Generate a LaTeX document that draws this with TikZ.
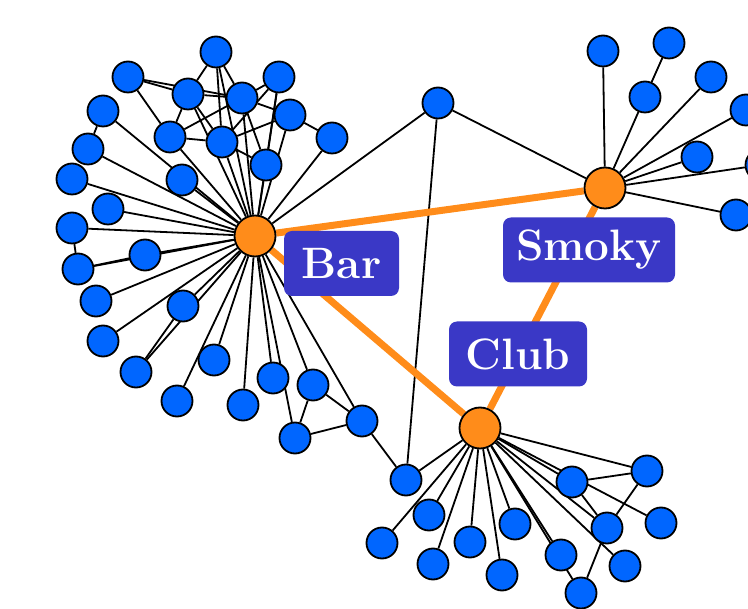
\documentclass[tikz,border=0pt]{standalone}
\usepackage{tikz}
\usetikzlibrary{backgrounds}
\definecolor{nodeblue}{RGB}{0,102,255}
\definecolor{huborange}{RGB}{255,140,26}
\definecolor{tagblue}{RGB}{58,56,198}

\begin{document}
\begin{tikzpicture}[x=1pt,y=-1pt,
  member/.style={circle,draw,line width=1.8pt,fill=nodeblue,minimum size=31pt,inner sep=0pt},
  hub/.style={circle,draw,line width=1.8pt,fill=huborange,minimum size=41pt,inner sep=0pt},
  tag/.style={fill=tagblue,text=white,rounded corners=8pt,minimum height=65pt,inner sep=0pt,
    font=\fontsize{44}{50}\selectfont\bfseries},
  link/.style={line width=1.8pt},
  tie/.style={line width=7pt,huborange}]
  \useasboundingbox (0,0) rectangle (748,609);
  \clip (0,0) rectangle (748,609);

  % hubs
  \node[hub] (hb) at (255,236) {};
  \node[hub] (hs) at (605,188) {};
  \node[hub] (hc) at (480,428) {};

  % Bar side
  \node[member] (b1) at (216,52) {};
  \node[member] (b2) at (128,77) {};
  \node[member] (b3) at (188,94) {};
  \node[member] (b4) at (242,98) {};
  \node[member] (b5) at (279,77) {};
  \node[member] (b6) at (290,115) {};
  \node[member] (b7) at (103,111) {};
  \node[member] (b8) at (332,138) {};
  \node[member] (b9) at (170,137) {};
  \node[member] (b10) at (222,142) {};
  \node[member] (b11) at (266,165) {};
  \node[member] (b12) at (88,149) {};
  \node[member] (b13) at (182,180) {};
  \node[member] (b14) at (72,179) {};
  \node[member] (b15) at (108,209) {};
  \node[member] (b16) at (72,228) {};
  \node[member] (b17) at (145,255) {};
  \node[member] (b18) at (78,269) {};
  \node[member] (b19) at (96,301) {};
  \node[member] (b20) at (183,306) {};
  \node[member] (b21) at (103,341) {};
  \node[member] (b22) at (136,372) {};
  \node[member] (b23) at (214,360) {};
  \node[member] (b24) at (177,401) {};
  \node[member] (b25) at (243,405) {};
  \node[member] (b26) at (273,378) {};
  \node[member] (b27) at (313,385) {};
  \node[member] (b28) at (295,438) {};
  \node[member] (b29) at (362,421) {};

  % between the three
  \node[member] (r) at (438,103) {};

  % Smoky side
  \node[member] (s1) at (603,51) {};
  \node[member] (s2) at (669,43) {};
  \node[member] (s3) at (645,97) {};
  \node[member] (s4) at (711,77) {};
  \node[member] (s5) at (746,110) {};
  \node[member] (s6) at (697,157) {};
  \node[member] (s7) at (761,165) {};
  \node[member] (s8) at (736,215) {};

  % Club side
  \node[member] (c1) at (406,480) {};
  \node[member] (c2) at (382,543) {};
  \node[member] (c3) at (429,515) {};
  \node[member] (c4) at (433,564) {};
  \node[member] (c5) at (470,542) {};
  \node[member] (c6) at (502,575) {};
  \node[member] (c7) at (515,524) {};
  \node[member] (c8) at (561,555) {};
  \node[member] (c9) at (581,593) {};
  \node[member] (c10) at (572,482) {};
  \node[member] (c11) at (647,471) {};
  \node[member] (c12) at (607,528) {};
  \node[member] (c13) at (661,523) {};
  \node[member] (c14) at (625,566) {};

  \begin{scope}[on background layer]
    \draw[link] (hb) edge (b1) edge (b3) edge (b4) edge (b5) edge (b6) edge (b7)
      edge (b8) edge (b9) edge (b10) edge (b11) edge (b12) edge (b13) edge (b14)
      edge (b15) edge (b16) edge (b17) edge (b18) edge (b19) edge (b20) edge (b21)
      edge (b22) edge (b23) edge (b24) edge (b25) edge (b26) edge (b27) edge (b28)
      edge (b29) edge (r);
    \draw[link] (b1) edge (b3) edge (b4) edge (b10);
    \draw[link] (b2) edge (b3) edge (b4) edge (b9);
    \draw[link] (b3) edge (b9) edge (b10) edge (b4);
    \draw[link] (b4) edge (b5) edge (b6) edge (b11) edge (b9);
    \draw[link] (b5) edge (b10) edge (b11);
    \draw[link] (b6) edge (b8) edge (b10);
    \draw[link] (b9) -- (b10);
    \draw[link] (b10) -- (b11);
    \draw[link] (b7) -- (b12);
    \draw[link] (b16) -- (b18) -- (b17);
    \draw[link] (b22) -- (b20);
    \draw[link] (b27) -- (b28) -- (b29) -- (b27);
    \draw[link] (b29) -- (c1) -- (r) -- (hs);

    \draw[link] (hs) edge (s1) edge (s3) edge (s4) edge (s5) edge (s6) edge (s7) edge (s8);
    \draw[link] (s2) -- (s3);

    \draw[link] (hc) edge (c1) edge (c2) edge (c3) edge (c4) edge (c5) edge (c6)
      edge (c7) edge (c8) edge (c9) edge (c10) edge (c11) edge (c12) edge (c13) edge (c14);
    \draw[link] (c10) -- (c11) -- (c12) -- (c10);
    \draw[link] (c12) -- (c9);

    \draw[tie] (hb) -- (hs) -- (hc) -- (hb);
  \end{scope}

  % labels
  \node[tag,minimum width=115pt] (bartag) at (341.5,263.5) {Bar};
  \node[tag,minimum width=172pt] (smokytag) at (589,250) {Smoky};
  \node[tag,minimum width=138pt] (clubtag) at (518,354) {Club};
\end{tikzpicture}
\end{document}
